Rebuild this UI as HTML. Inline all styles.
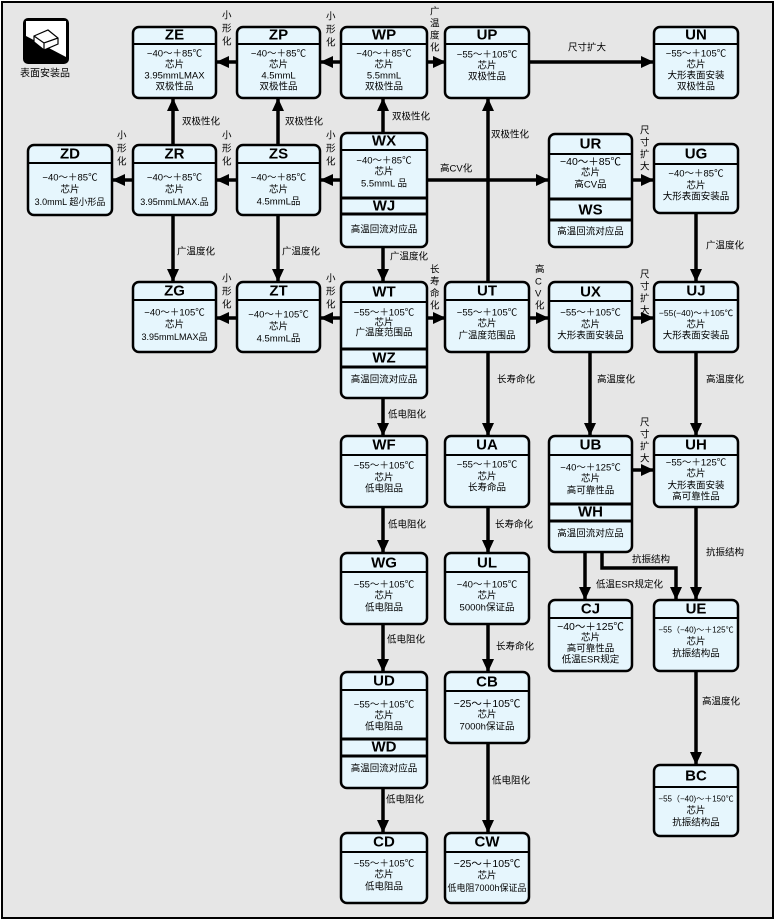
<!DOCTYPE html>
<html><head><meta charset="utf-8"><style>
html,body{margin:0;padding:0;background:#fff;}
svg{display:block;font-family:"Liberation Sans","Noto Sans CJK SC",sans-serif;}
.b{fill:#e6f6fd;stroke:#000;stroke-width:2.5;}
.tl{stroke:#000;stroke-width:2;}
.sp{stroke:#000;stroke-width:3;}
.t{font-size:15px;font-weight:bold;text-anchor:middle;dominant-baseline:central;}
.x{font-size:9.5px;text-anchor:middle;dominant-baseline:central;}
.l{font-size:9.5px;dominant-baseline:central;}
.c{stroke:#000;stroke-width:3.5;fill:none;}
</style></head><body>
<svg width="777" height="921" viewBox="0 0 777 921" xmlns="http://www.w3.org/2000/svg">
<defs><marker id="a" markerUnits="userSpaceOnUse" markerWidth="14" markerHeight="12" refX="12" refY="6" orient="auto"><path d="M0,0 L13,6 L0,12 Z" fill="#000"/></marker></defs>
<rect x="2" y="2" width="771" height="916" fill="#e6e6e6" stroke="#000" stroke-width="2"/>
<!-- icon -->
<rect x="23" y="18" width="46" height="46" rx="5" fill="#000"/>
<path d="M26,21 L66,21 L66,57 L26,36 Z" fill="#fff"/>
<path d="M34,36 L48,30 L58,38 L58,44 L44,50 L34,42 Z" fill="#fff" stroke="#000" stroke-width="1.2"/>
<path d="M34,36 L44,43 L58,38 M44,43 L44,50" fill="none" stroke="#000" stroke-width="1.2"/>
<text class="x" x="45" y="74" style="font-size:10px">表面安装品</text>

<!-- connectors -->
<g class="c" marker-end="url(#a)">
<line x1="237" y1="62" x2="217" y2="62"/>
<line x1="341" y1="62" x2="321" y2="62"/>
<line x1="427" y1="62" x2="445" y2="62"/>
<line x1="529" y1="62" x2="653" y2="62"/>
<line x1="383" y1="133" x2="383" y2="99"/>
<line x1="278" y1="145" x2="278" y2="99"/>
<line x1="173" y1="145" x2="173" y2="99"/>
<line x1="341" y1="180" x2="321" y2="180"/>
<line x1="237" y1="180" x2="217" y2="180"/>
<line x1="133" y1="180" x2="113" y2="180"/>
<line x1="427" y1="180" x2="548" y2="180"/>
<line x1="488" y1="282" x2="488" y2="99"/>
<line x1="632" y1="180" x2="653" y2="180"/>
<line x1="696" y1="213" x2="696" y2="281"/>
<line x1="383" y1="247" x2="383" y2="281"/>
<line x1="278" y1="215" x2="278" y2="281"/>
<line x1="173" y1="215" x2="173" y2="281"/>
<line x1="341" y1="318" x2="321" y2="318"/>
<line x1="237" y1="318" x2="217" y2="318"/>
<line x1="427" y1="318" x2="445" y2="318"/>
<line x1="529" y1="318" x2="548" y2="318"/>
<line x1="632" y1="318" x2="653" y2="318"/>
<line x1="590" y1="352" x2="590" y2="435"/>
<line x1="696" y1="352" x2="696" y2="435"/>
<line x1="488" y1="352" x2="488" y2="435"/>
<line x1="383" y1="398" x2="383" y2="435"/>
<line x1="632" y1="470" x2="653" y2="470"/>
<line x1="383" y1="507" x2="383" y2="552"/>
<line x1="488" y1="507" x2="488" y2="552"/>
<line x1="585" y1="552" x2="585" y2="599"/>
<polyline points="602,552 602,568 676,568 676,599"/>
<line x1="696" y1="507" x2="696" y2="599"/>
<line x1="383" y1="624" x2="383" y2="671"/>
<line x1="488" y1="624" x2="488" y2="671"/>
<line x1="696" y1="671" x2="696" y2="764"/>
<line x1="383" y1="788" x2="383" y2="832"/>
<line x1="488" y1="743" x2="488" y2="832"/>
</g>

<!-- connector labels -->
<g class="l">
<text x="222" y="16">小</text><text x="222" y="29">形</text><text x="222" y="42">化</text>
<text x="326" y="17">小</text><text x="326" y="30">形</text><text x="326" y="43">化</text>
<text x="430" y="12">广</text><text x="430" y="24">温</text><text x="430" y="36">度</text><text x="430" y="48">化</text>
<text x="568" y="48">尺寸扩大</text>
<text x="392" y="117">双极性化</text>
<text x="285" y="122">双极性化</text>
<text x="182" y="122">双极性化</text>
<text x="117" y="136">小</text><text x="117" y="149">形</text><text x="117" y="162">化</text>
<text x="222" y="136">小</text><text x="222" y="149">形</text><text x="222" y="162">化</text>
<text x="326" y="136">小</text><text x="326" y="149">形</text><text x="326" y="162">化</text>
<text x="440" y="169">高CV化</text>
<text x="491" y="135">双极性化</text>
<text x="640" y="131">尺</text><text x="640" y="143">寸</text><text x="640" y="155">扩</text><text x="640" y="167">大</text>
<text x="706" y="246">广温度化</text>
<text x="390" y="257">广温度化</text>
<text x="282" y="252">广温度化</text>
<text x="177" y="252">广温度化</text>
<text x="222" y="279">小</text><text x="222" y="292">形</text><text x="222" y="305">化</text>
<text x="326" y="279">小</text><text x="326" y="292">形</text><text x="326" y="305">化</text>
<text x="430" y="270">长</text><text x="430" y="282">寿</text><text x="430" y="294">命</text><text x="430" y="306">化</text>
<text x="535" y="270">高</text><text x="535" y="282">C</text><text x="535" y="294">V</text><text x="535" y="306">化</text>
<text x="640" y="275">尺</text><text x="640" y="287">寸</text><text x="640" y="299">扩</text><text x="640" y="311">大</text>
<text x="597" y="380">高温度化</text>
<text x="706" y="380">高温度化</text>
<text x="497" y="380">长寿命化</text>
<text x="388" y="415">低电阻化</text>
<text x="640" y="423">尺</text><text x="640" y="435">寸</text><text x="640" y="447">扩</text><text x="640" y="459">大</text>
<text x="388" y="525">低电阻化</text>
<text x="495" y="525">长寿命化</text>
<text x="596" y="585">低温ESR规定化</text>
<text x="632" y="560">抗振结构</text>
<text x="706" y="553">抗振结构</text>
<text x="387" y="640">低电阻化</text>
<text x="496" y="647">长寿命化</text>
<text x="702" y="702">高温度化</text>
<text x="386" y="800">低电阻化</text>
<text x="492" y="781">低电阻化</text>
</g>

<!-- Boxes -->
<!-- ZE -->
<rect class="b" x="133" y="27" width="83" height="71" rx="6"/><line class="tl" x1="133" y1="44" x2="216" y2="44"/>
<text class="t" x="174.5" y="35">ZE</text>
<text class="x" x="174.5" y="54">−40～＋85℃</text><text class="x" x="174.5" y="65">芯片</text><text class="x" x="174.5" y="76">3.95mmLMAX</text><text class="x" x="174.5" y="87">双极性品</text>
<!-- ZP -->
<rect class="b" x="237" y="27" width="83" height="71" rx="6"/><line class="tl" x1="237" y1="44" x2="320" y2="44"/>
<text class="t" x="278.5" y="35">ZP</text>
<text class="x" x="278.5" y="54">−40～＋85℃</text><text class="x" x="278.5" y="65">芯片</text><text class="x" x="278.5" y="76">4.5mmL</text><text class="x" x="278.5" y="87">双极性品</text>
<!-- WP -->
<rect class="b" x="341" y="27" width="86" height="71" rx="6"/><line class="tl" x1="341" y1="44" x2="427" y2="44"/>
<text class="t" x="384" y="35">WP</text>
<text class="x" x="384" y="54">−40～＋85℃</text><text class="x" x="384" y="65">芯片</text><text class="x" x="384" y="76">5.5mmL</text><text class="x" x="384" y="87">双极性品</text>
<!-- UP -->
<rect class="b" x="445" y="27" width="84" height="71" rx="6"/><line class="tl" x1="445" y1="44" x2="529" y2="44"/>
<text class="t" x="487" y="35">UP</text>
<text class="x" x="487" y="55">−55～＋105℃</text><text class="x" x="487" y="66">芯片</text><text class="x" x="487" y="77">双极性品</text>
<!-- UN -->
<rect class="b" x="654" y="27" width="84" height="71" rx="6"/><line class="tl" x1="654" y1="44" x2="738" y2="44"/>
<text class="t" x="696" y="35">UN</text>
<text class="x" x="696" y="54">−55～＋105℃</text><text class="x" x="696" y="65">芯片</text><text class="x" x="696" y="76">大形表面安装</text><text class="x" x="696" y="87">双极性品</text>

<!-- ZD -->
<rect class="b" x="28" y="145" width="84" height="70" rx="6"/><line class="tl" x1="28" y1="163" x2="112" y2="163"/>
<text class="t" x="70" y="154">ZD</text>
<text class="x" x="70" y="178">−40～＋85℃</text><text class="x" x="70" y="190">芯片</text><text class="x" x="70" y="202" style="font-size:9px">3.0mmL 超小形品</text>
<!-- ZR -->
<rect class="b" x="133" y="145" width="83" height="70" rx="6"/><line class="tl" x1="133" y1="163" x2="216" y2="163"/>
<text class="t" x="174.5" y="154">ZR</text>
<text class="x" x="174.5" y="178">−40～＋85℃</text><text class="x" x="174.5" y="190">芯片</text><text class="x" x="174.5" y="202" style="font-size:9px">3.95mmLMAX.品</text>
<!-- ZS -->
<rect class="b" x="237" y="145" width="83" height="70" rx="6"/><line class="tl" x1="237" y1="163" x2="320" y2="163"/>
<text class="t" x="278.5" y="154">ZS</text>
<text class="x" x="278.5" y="178">−40～＋85℃</text><text class="x" x="278.5" y="190">芯片</text><text class="x" x="278.5" y="202">4.5mmL品</text>
<!-- WX/WJ -->
<rect class="b" x="341" y="133" width="86" height="114" rx="6"/><line class="tl" x1="341" y1="150" x2="427" y2="150"/>
<text class="t" x="384" y="141">WX</text>
<text class="x" x="384" y="161">−40～＋85℃</text><text class="x" x="384" y="172">芯片</text><text class="x" x="384" y="184">5.5mmL 品</text>
<line class="sp" x1="341" y1="198" x2="427" y2="198"/><line class="sp" x1="341" y1="214" x2="427" y2="214"/>
<text class="t" x="384" y="206">WJ</text>
<text class="x" x="384" y="230">高温回流对应品</text>
<!-- UR/WS -->
<rect class="b" x="549" y="134" width="83" height="113" rx="6"/><line class="tl" x1="549" y1="154" x2="632" y2="154"/>
<text class="t" x="590.5" y="144">UR</text>
<text class="x" x="590.5" y="162" style="font-size:10.5px">−40～＋85℃</text><text class="x" x="590.5" y="173">芯片</text><text class="x" x="590.5" y="185">高CV品</text>
<line class="sp" x1="549" y1="199" x2="632" y2="199"/><line class="sp" x1="549" y1="220" x2="632" y2="220"/>
<text class="t" x="590.5" y="210">WS</text>
<text class="x" x="590.5" y="232">高温回流对应品</text>
<!-- UG -->
<rect class="b" x="654" y="144" width="84" height="69" rx="6"/><line class="tl" x1="654" y1="164" x2="738" y2="164"/>
<text class="t" x="696" y="154">UG</text>
<text class="x" x="696" y="174">−40～＋85℃</text><text class="x" x="696" y="186">芯片</text><text class="x" x="696" y="197">大形表面安装品</text>

<!-- ZG -->
<rect class="b" x="133" y="282" width="83" height="70" rx="6"/><line class="tl" x1="133" y1="300" x2="216" y2="300"/>
<text class="t" x="174.5" y="291">ZG</text>
<text class="x" x="174.5" y="313">−40～＋105℃</text><text class="x" x="174.5" y="325">芯片</text><text class="x" x="174.5" y="337" style="font-size:9px">3.95mmLMAX品</text>
<!-- ZT -->
<rect class="b" x="237" y="282" width="83" height="70" rx="6"/><line class="tl" x1="237" y1="300" x2="320" y2="300"/>
<text class="t" x="278.5" y="291">ZT</text>
<text class="x" x="278.5" y="315">−40～＋105℃</text><text class="x" x="278.5" y="327">芯片</text><text class="x" x="278.5" y="339">4.5mmL品</text>
<!-- WT/WZ -->
<rect class="b" x="341" y="282" width="86" height="116" rx="6"/><line class="tl" x1="341" y1="302" x2="427" y2="302"/>
<text class="t" x="384" y="292">WT</text>
<text class="x" x="384" y="313">−55～＋105℃</text><text class="x" x="384" y="323">芯片</text><text class="x" x="384" y="333">广温度范围品</text>
<line class="sp" x1="341" y1="349" x2="427" y2="349"/><line class="sp" x1="341" y1="367" x2="427" y2="367"/>
<text class="t" x="384" y="358">WZ</text>
<text class="x" x="384" y="380">高温回流对应品</text>
<!-- UT -->
<rect class="b" x="445" y="282" width="84" height="70" rx="6"/><line class="tl" x1="445" y1="300" x2="529" y2="300"/>
<text class="t" x="487" y="291">UT</text>
<text class="x" x="487" y="313">−55～＋105℃</text><text class="x" x="487" y="324">芯片</text><text class="x" x="487" y="336">广温度范围品</text>
<!-- UX -->
<rect class="b" x="549" y="282" width="83" height="70" rx="6"/><line class="tl" x1="549" y1="301" x2="632" y2="301"/>
<text class="t" x="590.5" y="292">UX</text>
<text class="x" x="590.5" y="313">−55～＋105℃</text><text class="x" x="590.5" y="325">芯片</text><text class="x" x="590.5" y="336">大形表面安装品</text>
<!-- UJ -->
<rect class="b" x="654" y="282" width="84" height="70" rx="6"/><line class="tl" x1="654" y1="300" x2="738" y2="300"/>
<text class="t" x="696" y="291">UJ</text>
<text class="x" x="696" y="313" style="font-size:8.5px">−55(−40)～＋105℃</text><text class="x" x="696" y="325">芯片</text><text class="x" x="696" y="336">大形表面安装品</text>

<!-- WF -->
<rect class="b" x="341" y="436" width="86" height="71" rx="6"/><line class="tl" x1="341" y1="455" x2="427" y2="455"/>
<text class="t" x="384" y="445">WF</text>
<text class="x" x="384" y="466">−55～＋105℃</text><text class="x" x="384" y="478">芯片</text><text class="x" x="384" y="489">低电阻品</text>
<!-- UA -->
<rect class="b" x="445" y="436" width="84" height="71" rx="6"/><line class="tl" x1="445" y1="455" x2="529" y2="455"/>
<text class="t" x="487" y="445">UA</text>
<text class="x" x="487" y="465">−55～＋105℃</text><text class="x" x="487" y="477">芯片</text><text class="x" x="487" y="488">长寿命品</text>
<!-- UB/WH -->
<rect class="b" x="549" y="436" width="83" height="116" rx="6"/><line class="tl" x1="549" y1="455" x2="632" y2="455"/>
<text class="t" x="590.5" y="445">UB</text>
<text class="x" x="590.5" y="468">−40～＋125℃</text><text class="x" x="590.5" y="479">芯片</text><text class="x" x="590.5" y="491">高可靠性品</text>
<line class="sp" x1="549" y1="504" x2="632" y2="504"/><line class="sp" x1="549" y1="521" x2="632" y2="521"/>
<text class="t" x="590.5" y="512">WH</text>
<text class="x" x="590.5" y="534">高温回流对应品</text>
<!-- UH -->
<rect class="b" x="654" y="436" width="84" height="71" rx="6"/><line class="tl" x1="654" y1="455" x2="738" y2="455"/>
<text class="t" x="696" y="445">UH</text>
<text class="x" x="696" y="463">−55～＋125℃</text><text class="x" x="696" y="474">芯片</text><text class="x" x="696" y="486">大形表面安装</text><text class="x" x="696" y="497">高可靠性品</text>

<!-- WG -->
<rect class="b" x="341" y="553" width="86" height="71" rx="6"/><line class="tl" x1="341" y1="572" x2="427" y2="572"/>
<text class="t" x="384" y="563">WG</text>
<text class="x" x="384" y="585">−55～＋105℃</text><text class="x" x="384" y="596">芯片</text><text class="x" x="384" y="608">低电阻品</text>
<!-- UL -->
<rect class="b" x="445" y="553" width="84" height="71" rx="6"/><line class="tl" x1="445" y1="572" x2="529" y2="572"/>
<text class="t" x="487" y="563">UL</text>
<text class="x" x="487" y="585">−40～＋105℃</text><text class="x" x="487" y="596">芯片</text><text class="x" x="487" y="608">5000h保证品</text>
<!-- CJ -->
<rect class="b" x="549" y="600" width="83" height="71" rx="6"/><line class="tl" x1="549" y1="618" x2="632" y2="618"/>
<text class="t" x="590.5" y="609">CJ</text>
<text class="x" x="590.5" y="627" style="font-size:10.5px">−40～＋125℃</text><text class="x" x="590.5" y="638">芯片</text><text class="x" x="590.5" y="649">高可靠性品</text><text class="x" x="590.5" y="660">低温ESR规定</text>
<!-- UE -->
<rect class="b" x="654" y="600" width="84" height="71" rx="6"/><line class="tl" x1="654" y1="618" x2="738" y2="618"/>
<text class="t" x="696" y="609">UE</text>
<text class="x" x="696" y="630" style="font-size:8px">−55（−40)～＋125℃</text><text class="x" x="696" y="642">芯片</text><text class="x" x="696" y="654">抗振结构品</text>

<!-- UD/WD -->
<rect class="b" x="341" y="672" width="86" height="116" rx="6"/><line class="tl" x1="341" y1="690" x2="427" y2="690"/>
<text class="t" x="384" y="681">UD</text>
<text class="x" x="384" y="705">−55～＋105℃</text><text class="x" x="384" y="716">芯片</text><text class="x" x="384" y="727">低电阻品</text>
<line class="sp" x1="341" y1="739" x2="427" y2="739"/><line class="sp" x1="341" y1="756" x2="427" y2="756"/>
<text class="t" x="384" y="747">WD</text>
<text class="x" x="384" y="769">高温回流对应品</text>
<!-- CB -->
<rect class="b" x="445" y="672" width="84" height="71" rx="6"/><line class="tl" x1="445" y1="691" x2="529" y2="691"/>
<text class="t" x="487" y="682">CB</text>
<text class="x" x="487" y="704" style="font-size:10.5px">−25～＋105℃</text><text class="x" x="487" y="715">芯片</text><text class="x" x="487" y="727">7000h保证品</text>
<!-- BC -->
<rect class="b" x="654" y="765" width="84" height="71" rx="6"/><line class="tl" x1="654" y1="787" x2="738" y2="787"/>
<text class="t" x="696" y="776">BC</text>
<text class="x" x="696" y="799" style="font-size:8px">−55（−40)～＋150℃</text><text class="x" x="696" y="811">芯片</text><text class="x" x="696" y="823">抗振结构品</text>
<!-- CD -->
<rect class="b" x="341" y="833" width="86" height="70" rx="6"/><line class="tl" x1="341" y1="852" x2="427" y2="852"/>
<text class="t" x="384" y="842">CD</text>
<text class="x" x="384" y="864">−55～＋105℃</text><text class="x" x="384" y="875">芯片</text><text class="x" x="384" y="887">低电阻品</text>
<!-- CW -->
<rect class="b" x="445" y="833" width="84" height="70" rx="6"/><line class="tl" x1="445" y1="852" x2="529" y2="852"/>
<text class="t" x="487" y="842">CW</text>
<text class="x" x="487" y="864" style="font-size:10.5px">−25～＋105℃</text><text class="x" x="487" y="876">芯片</text><text class="x" x="487" y="888" style="font-size:9px">低电阻7000h保证品</text>
</svg>
</body></html>
